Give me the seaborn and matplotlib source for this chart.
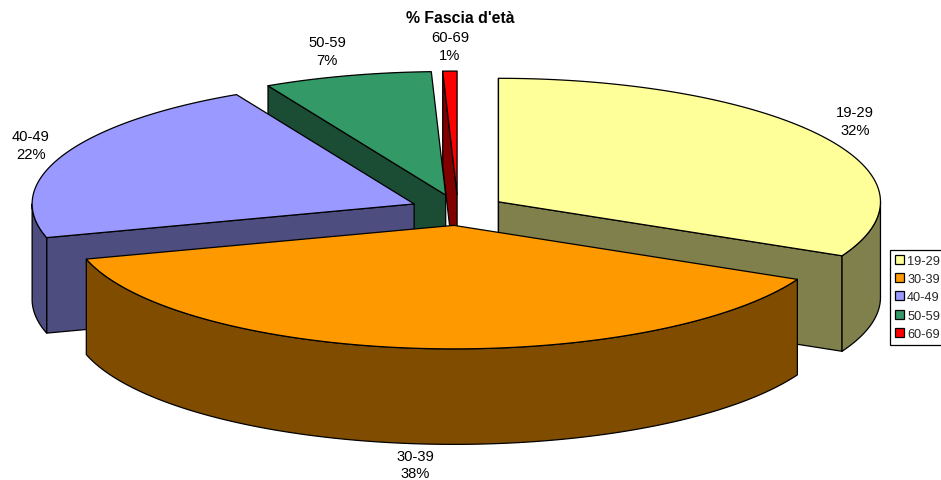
import numpy as np
import seaborn as sns
import matplotlib.pyplot as plt
from matplotlib.patches import Polygon, Patch

# Data
fasce = ['19-29', '30-39', '40-49', '50-59', '60-69']
percent = [32.2, 38.4, 21.7, 7.1, 0.6]
colori = ['#FFFF99', '#FF9900', '#9999FF', '#339966', '#FF0000']

# Pie geometry, in pixels
CX, CY = 458, 211
RX, RY = 382, 123.5
DEPTH = 95.5
EXPLODE = 0.125
LW = 0.9

# where the slice labels sit
label_pos = [(855, 122), (415, 465.5), (31, 146), (327, 52), (450, 47)]

sns.set_theme(style='white')
plt.rcParams['font.family'] = ['Liberation Sans', 'DejaVu Sans']
top_cols = sns.color_palette(colori)
side_cols = [tuple(v / 2 for v in c) for c in top_cols]

fig = plt.figure(figsize=(9.41, 4.81), dpi=100)
ax = fig.add_axes([0, 0, 1, 1])
ax.set_xlim(0, 941)
ax.set_ylim(481, 0)
ax.axis('off')


def rim(x0, y0, a, b, n=120):
    t = np.radians(np.linspace(a, b, n))
    return np.column_stack([x0 + RX * np.sin(t), y0 - RY * np.cos(t)])


def add_poly(pts, col, z):
    ax.add_patch(Polygon(pts, closed=True, facecolor=col, edgecolor='black',
                         linewidth=LW, joinstyle='round', zorder=z))


def wall(x0, y0, ang, col, z):
    p = rim(x0, y0, ang, ang, 1)[0]
    add_poly([(x0, y0), p, (p[0], p[1] + DEPTH), (x0, y0 + DEPTH)], col, z)


edges = np.concatenate([[0], np.cumsum(percent)]) * 3.6 * 100 / np.sum(percent)
mids = (edges[:-1] + edges[1:]) / 2
# back slices first
order = np.argsort(-np.cos(np.radians(mids)))

for z, i in enumerate(order):
    a, b, m = edges[i], edges[i + 1], np.radians(mids[i])
    x0 = CX + EXPLODE * RX * np.sin(m)
    y0 = CY - EXPLODE * RY * np.cos(m)
    base = z * 10 + 1
    # only walls that face the viewer
    if np.sin(np.radians(a)) < 0 or a == 0:
        wall(x0, y0, a, side_cols[i], base)
    if np.sin(np.radians(b)) > 0:
        wall(x0, y0, b, side_cols[i], base)
    lo, hi = max(a, 90), min(b, 270)
    if hi > lo:
        front = rim(x0, y0, lo, hi)
        add_poly(np.vstack([front, (front + [0, DEPTH])[::-1]]), side_cols[i], base + 1)
    add_poly(np.vstack([[(x0, y0)], rim(x0, y0, a, b)]), top_cols[i], base + 2)

for name, val, (lx, ly) in zip(fasce, percent, label_pos):
    ax.text(lx, ly, f'{name}\n{val:.0f}%', ha='center', va='center', fontsize=10.6,
            color='black', linespacing=1.28, zorder=100)

ax.text(460, 18.5, "% Fascia d'età", ha='center', va='center', fontsize=11.4,
        fontweight='bold', color='black', zorder=100)

handles = [Patch(facecolor=c, edgecolor='black', linewidth=LW, label=n)
           for c, n in zip(top_cols, fasce)]
leg = ax.legend(handles=handles, loc='upper left', bbox_to_anchor=(890 / 941, 1 - 251 / 481),
                borderaxespad=0, fontsize=9.2, frameon=True, fancybox=False, framealpha=1,
                edgecolor='black', handlelength=0.7, handleheight=0.7, handletextpad=0.28,
                labelspacing=0.5, borderpad=0.36)
leg.get_frame().set_linewidth(LW)
leg.set_zorder(100)

plt.savefig('out.png', dpi=100)
plt.close()
